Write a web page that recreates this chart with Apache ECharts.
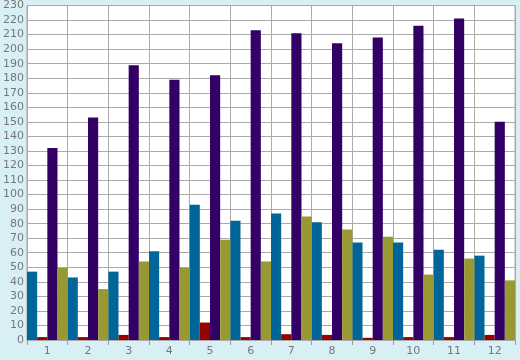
<!DOCTYPE html>
<html><head><meta charset="utf-8">
<script src="https://cdn.jsdelivr.net/npm/echarts@6/dist/echarts.min.js"></script>
<style>html,body{margin:0;padding:0;background:#d9eff6;}#c{width:520px;height:360px;}</style>
</head><body><div id="c"></div>
<script>
var categories = ['1','2','3','4','5','6','7','8','9','10','11','12'];
var tealValues   = [47, 43, 47, 61, 93, 82, 87, 81, 67, 67, 62, 58];
var redValues    = [2, 2, 3.5, 2, 12, 2, 4, 3.5, 1.5, 2, 2, 3.5];
var purpleValues = [132, 153, 189, 179, 182, 213, 211, 204, 208, 216, 221, 150];
var oliveValues  = [49.5, 35, 54, 49.5, 69, 54, 85, 76, 71, 45, 56, 41];

var chart = echarts.init(document.getElementById('c'), null, {renderer:'canvas'});
var font = {color:'#777', fontSize:11, fontFamily:'DejaVu Sans'};
function s(name, data, color){
  return {name:name, type:'bar', data:data, barGap:'0%', barCategoryGap:'0%',
    itemStyle:{color:color}, animation:false, silent:true};
}
chart.setOption({
  backgroundColor:'#d9eff6',
  animation:false,
  grid:{left:26, right:5, top:5.5, bottom:20, show:true, backgroundColor:'#fff', borderColor:'#aaa', borderWidth:1},
  xAxis:{type:'category', data:categories,
    axisLine:{show:true, lineStyle:{color:'#aaa'}},
    axisTick:{show:true, length:5, lineStyle:{color:'#999'}},
    splitLine:{show:true, lineStyle:{color:'#aaa', width:1}},
    axisLabel:Object.assign({margin:6}, font)},
  yAxis:{type:'value', min:0, max:230, interval:10,
    axisLine:{show:true, lineStyle:{color:'#aaa'}},
    axisTick:{show:false},
    splitLine:{show:true, lineStyle:{color:'#aaa', width:1}},
    axisLabel:Object.assign({margin:3}, font)},
  series:[s('A', tealValues, '#006699'), s('B', redValues, '#990000'), s('C', purpleValues, '#330066'), s('D', oliveValues, '#999933')]
});
</script></body></html>
